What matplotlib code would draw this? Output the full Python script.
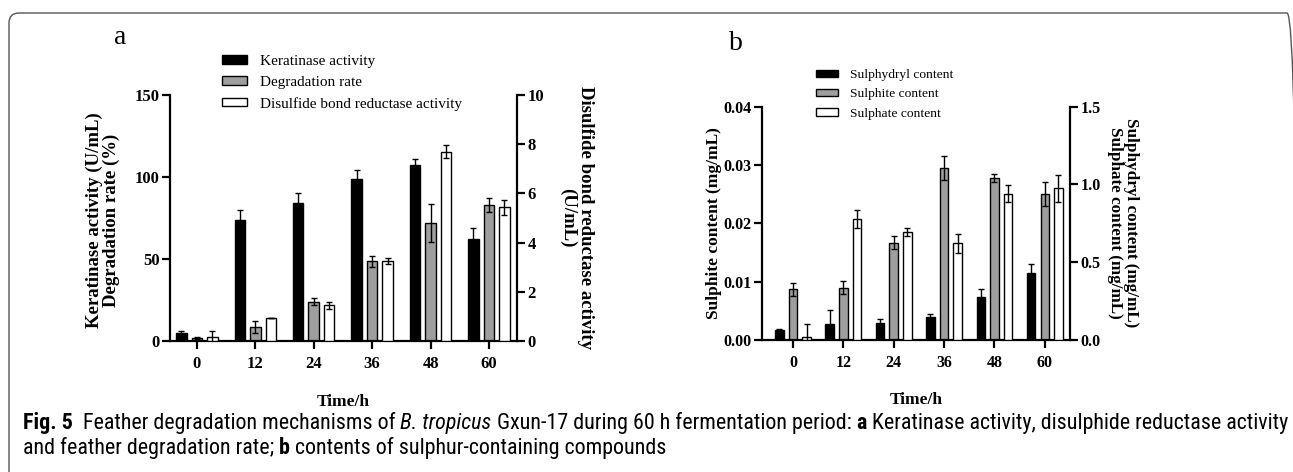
import numpy as np
import matplotlib
matplotlib.use("Agg")
import matplotlib.pyplot as plt
from matplotlib.patches import FancyBboxPatch, Patch
from matplotlib.transforms import IdentityTransform
from matplotlib import font_manager

# ---------------- data ----------------
times = ["0", "12", "24", "36", "48", "60"]

keratinase = [5.0, 74.0, 84.0, 98.5, 107.5, 62.0]
keratinase_err = [1.0, 6.0, 6.5, 6.0, 3.5, 7.0]
degradation = [1.6, 8.5, 24.0, 48.5, 72.0, 83.0]
degradation_err = [0.6, 3.7, 2.0, 3.6, 11.5, 4.4]
disulfide = [0.18, 0.95, 1.45, 3.25, 7.7, 5.43]
disulfide_err = [0.24, 0.0, 0.14, 0.14, 0.25, 0.31]

sulphydryl = [0.064, 0.10, 0.107, 0.15, 0.278, 0.429]
sulphydryl_err = [0.006, 0.09, 0.026, 0.017, 0.048, 0.061]
sulphite = [0.0087, 0.0090, 0.0167, 0.0295, 0.0278, 0.0250]
sulphite_err = [0.0011, 0.0011, 0.0011, 0.0020, 0.0007, 0.0021]
sulphate = [0.017, 0.778, 0.692, 0.621, 0.940, 0.975]
sulphate_err = [0.085, 0.058, 0.026, 0.06, 0.054, 0.085]

a_left_ticks = [0, 50, 100, 150]
a_right_ticks = [0, 2, 4, 6, 8, 10]
b_left_ticks = [0.00, 0.01, 0.02, 0.03, 0.04]
b_right_ticks = [0.0, 0.5, 1.0, 1.5]

# ---------------- style ----------------
W, H, DPI = 1293, 472, 100
SERIF = "Liberation Serif"
GRAY = "#9e9e9e"
plt.rcParams["font.family"] = [SERIF, "DejaVu Serif"]
plt.rcParams["axes.linewidth"] = 1.6

fig = plt.figure(figsize=(W / DPI, H / DPI), dpi=DPI)


def fx(px):
    return px / W


def fy(py):
    return 1 - py / H


def style_axes(ax, twin, fs=12):
    ax.spines["top"].set_visible(False)
    twin.spines["top"].set_visible(False)
    ax.spines["right"].set_visible(False)
    twin.spines["left"].set_visible(False)
    twin.spines["bottom"].set_visible(False)
    for a in (ax, twin):
        a.tick_params(direction="out", length=5.5, width=1.6, labelsize=fs, pad=2)
        for lab in a.get_yticklabels() + a.get_xticklabels():
            lab.set_fontweight("bold")
    ax.tick_params(axis="x", length=5.5, width=1.6, pad=5)


def bars(ax, xs, vals, errs, color, width):
    ax.bar(xs, vals, width=width, color=color, edgecolor="black", linewidth=1.0,
           yerr=errs, error_kw=dict(ecolor="black", elinewidth=1.0, capsize=2.2, capthick=1.0),
           zorder=2)


# ---------------- panel a ----------------
ax = fig.add_axes([fx(170), fy(341), fx(517 - 170), (341 - 95) / H])
tw = ax.twinx()
x = np.arange(len(times))
wa, oa = 0.18, 0.265
bars(ax, x - oa, keratinase, keratinase_err, "black", wa)
bars(ax, x, degradation, degradation_err, GRAY, wa)
bars(tw, x + oa, disulfide, disulfide_err, "white", wa)
ax.set_xlim(-0.46, 5.48)
ax.set_ylim(0, 150)
tw.set_ylim(0, 10)
ax.set_yticks(a_left_ticks)
tw.set_yticks(a_right_ticks)
ax.set_xticks(x)
ax.set_xticklabels(times)
style_axes(ax, tw, 12)

fig.text(fx(103), fy(220), "Keratinase activity (U/mL)\nDegradation rate (%)", rotation=90,
         ha="center", va="center", fontsize=13.5, fontweight="bold", linespacing=1.0)
fig.text(fx(577), fy(218), "Disulfide bond reductase activity\n(U/mL)", rotation=270,
         ha="center", va="center", fontsize=13.5, fontweight="bold", linespacing=1.05)
fig.text(fx(343), fy(402), "Time/h", ha="center", va="center", fontsize=12.5, fontweight="bold")
fig.text(fx(120), fy(38), "a", ha="center", va="center", fontsize=20)

leg_a = [Patch(facecolor="black", edgecolor="black", lw=1.0, label="Keratinase activity"),
         Patch(facecolor=GRAY, edgecolor="black", lw=1.0, label="Degradation rate"),
         Patch(facecolor="white", edgecolor="black", lw=1.0, label="Disulfide bond reductase activity")]
fig.legend(handles=leg_a, loc="upper left", bbox_to_anchor=(fx(222), fy(55)),
           bbox_transform=fig.transFigure, frameon=False, fontsize=11, borderpad=0,
           borderaxespad=0, handlelength=1.65, handleheight=0.45, handletextpad=0.85,
           labelspacing=0.52)

# ---------------- panel b ----------------
bx = fig.add_axes([fx(762), fy(340), fx(1070 - 762), (340 - 106.7) / H])
bt = bx.twinx()
wb, ob = 0.17, 0.27
bars(bt, x - ob, sulphydryl, sulphydryl_err, "black", wb)
bars(bx, x, sulphite, sulphite_err, GRAY, wb)
bars(bt, x + ob, sulphate, sulphate_err, "white", wb)
bx.set_xlim(-0.615, 5.5)
bx.set_ylim(0, 0.04)
bt.set_ylim(0, 1.5)
bx.set_yticks(b_left_ticks)
bx.set_yticklabels([f"{v:.2f}" for v in b_left_ticks])
bt.set_yticks(b_right_ticks)
bt.set_yticklabels([f"{v:.1f}" for v in b_right_ticks])
bx.set_xticks(x)
bx.set_xticklabels(times)
style_axes(bx, bt, 11.5)

fig.text(fx(714), fy(223), "Sulphite content (mg/mL)", rotation=90,
         ha="center", va="center", fontsize=12.5, fontweight="bold")
fig.text(fx(1123), fy(223), "Sulphydryl content (mg/mL)\nSulphate content (mg/mL)", rotation=270,
         ha="center", va="center", fontsize=12.3, fontweight="bold", linespacing=0.95)
fig.text(fx(916), fy(400), "Time/h", ha="center", va="center", fontsize=12.5, fontweight="bold")
fig.text(fx(736), fy(43), "b", ha="center", va="center", fontsize=20)

leg_b = [Patch(facecolor="black", edgecolor="black", lw=1.0, label="Sulphydryl content"),
         Patch(facecolor=GRAY, edgecolor="black", lw=1.0, label="Sulphite content"),
         Patch(facecolor="white", edgecolor="black", lw=1.0, label="Sulphate content")]
fig.legend(handles=leg_b, loc="upper left", bbox_to_anchor=(fx(816), fy(69)),
           bbox_transform=fig.transFigure, frameon=False, fontsize=9.7, borderpad=0,
           borderaxespad=0, handlelength=1.6, handleheight=0.45, handletextpad=0.9,
           labelspacing=0.55)

# ---------------- frame ----------------
frame = FancyBboxPatch((9, -40), 1297 - 9, (H - 13) + 40,
                       boxstyle="round,pad=0,rounding_size=10",
                       transform=IdentityTransform(), facecolor="none",
                       edgecolor="#555555", linewidth=1.0)
fig.patches.append(frame)

# ---------------- caption ----------------
avail = {f.name for f in font_manager.fontManager.ttflist}
CAP = "Open Sans"
for cand in ["Liberation Sans Narrow", "Roboto Condensed", "Open Sans Condensed", "Roboto"]:
    if cand in avail:
        CAP = cand
        break

line1 = [("Fig. 5", "bold", "normal", 2),
         ("Feather degradation mechanisms of", "normal", "normal", 1),
         ("B. tropicus", "normal", "italic", 1),
         ("Gxun-17 during 60 h fermentation period:", "normal", "normal", 1),
         ("a", "bold", "normal", 1),
         ("Keratinase activity, disulphide reductase activity", "normal", "normal", 0)]
line2 = [("and feather degradation rate;", "normal", "normal", 1),
         ("b", "bold", "normal", 1),
         ("contents of sulphur-containing compounds", "normal", "normal", 0)]

renderer = fig.canvas.get_renderer()


def text_w(s, fs, weight="normal", style="normal"):
    t = fig.text(0, 0, s, fontsize=fs, family=CAP, fontweight=weight, fontstyle=style)
    w = t.get_window_extent(renderer).width
    t.remove()
    return w


def line_width(pieces, fs):
    sp = text_w("a a", fs) - text_w("aa", fs)
    tot = 0
    for s, wt, st, nsp in pieces:
        tot += text_w(s, fs, wt, st) + nsp * sp
    return tot


def draw_line(pieces, x0, yc, fs):
    sp = text_w("a a", fs) - text_w("aa", fs)
    xcur = x0
    for s, wt, st, nsp in pieces:
        t = fig.text(xcur / W, yc / H, s, fontsize=fs, family=CAP, fontweight=wt,
                     fontstyle=st, va="baseline", ha="left", transform=fig.transFigure)
        xcur += t.get_window_extent(renderer).width + nsp * sp


fs_cap = 11.0
target = 1285 - 23
w = line_width(line1, fs_cap)
fs_cap = fs_cap * target / w
draw_line(line1, 23, H - 429, fs_cap)
draw_line(line2, 23, H - 454, fs_cap)

fig.savefig("out.png", dpi=DPI)
